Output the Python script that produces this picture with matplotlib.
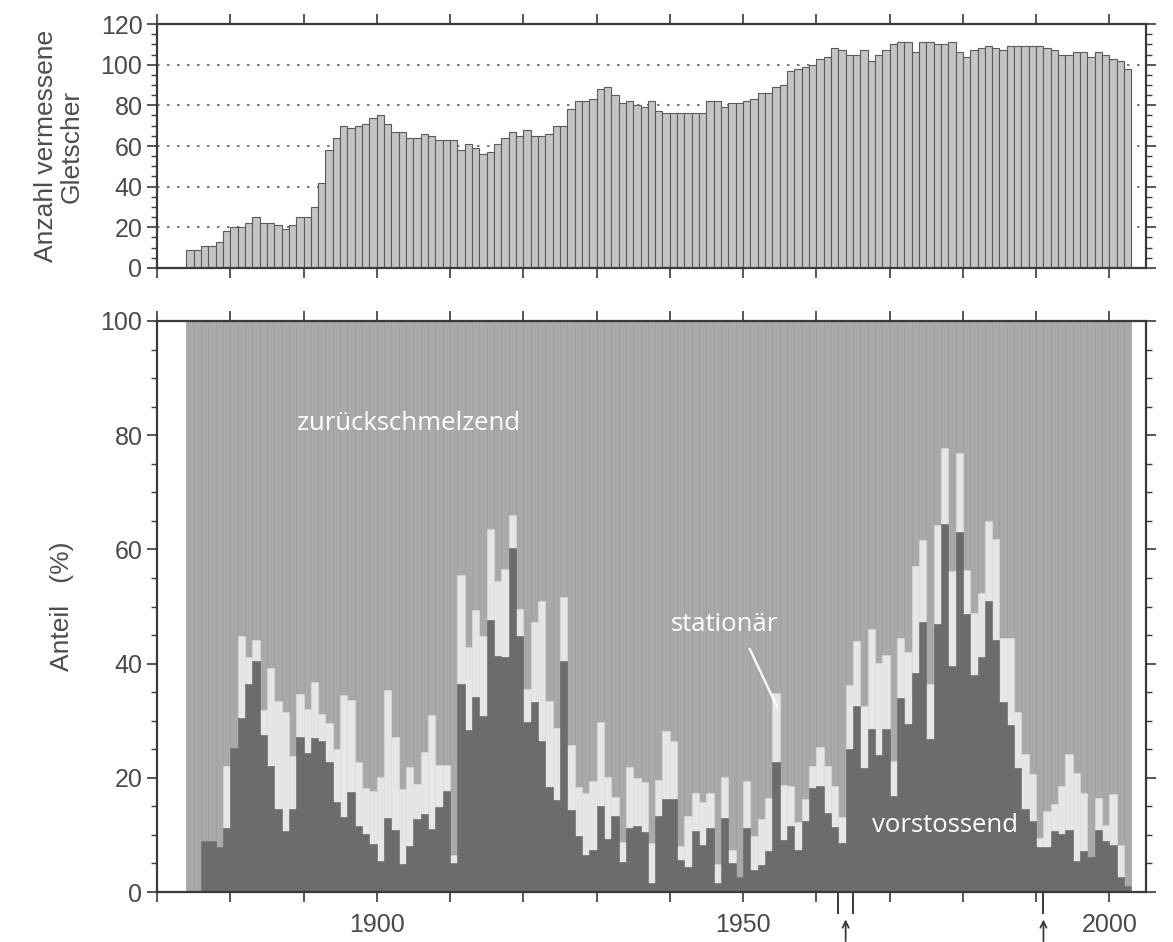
import matplotlib
matplotlib.use("Agg")
import matplotlib.pyplot as plt
from matplotlib.ticker import MultipleLocator, NullFormatter
import numpy as np

plt.rcParams['font.family'] = ['Liberation Sans', 'DejaVu Sans']

# ---------------- data ----------------
years = list(range(1874, 2003))

# number of glaciers measured per year
n_measured = [
    9, 9, 11, 11, 13, 18, 20, 20, 22, 25, 22, 22, 21, 19, 21, 25, 25, 30, 42, 58,
    64, 70, 69, 70, 71, 74, 75, 71, 67, 67, 64, 64, 66, 65,
    63, 63, 63, 58, 61, 59, 56, 57, 61, 64, 67, 65, 68, 65, 65, 66, 70, 70, 78, 82,
    82, 83, 88, 89, 85, 81, 82,
    80, 79, 82, 77, 76, 76, 76, 76, 76, 76, 82, 82, 79, 81, 81, 82, 83, 86, 86, 89,
    90, 97, 98, 99, 100, 103, 104, 108, 107, 105, 105, 107, 102, 105, 107,
    110, 111, 111, 106, 111, 111, 110, 110, 111, 106, 104, 107, 108, 109, 108, 107,
    109, 109, 109, 109, 109, 108, 107, 105, 105, 106, 106, 104, 106, 105, 103, 102, 98,
]

# share advancing (%)
vorstossend = [
    0, 0, 9, 9, 7.8, 11.2, 25.2, 30.4, 36.5, 40.4, 27.5, 22, 14.6, 10.6, 14.6, 27.1,
    24.3, 26.9, 26.5, 22.7, 15.8, 13.1, 17.5, 11.6, 10.2, 8.4, 5.5, 12.9, 10.8, 4.9,
    8.1, 12.7, 13.7, 11, 14.8, 17.7, 5, 36.5, 28.3, 34.2, 30.8, 47.7, 41.4, 41.1,
    60.2, 44.9, 29.8, 33.2, 26.5, 18.4, 16.1, 40.4, 14.3, 9.8, 6.4, 7.4, 15.1, 9.2,
    13.3, 5.2, 11.2, 11.5, 10.5, 1.5, 13.3, 16.2, 16.2, 5.6, 4.4, 10.6, 8.3, 11.2,
    1.5, 12.9, 5.1, 2.6, 11.2, 3.8, 4.8, 7.1, 22.7, 9.1, 11.5, 7.4, 12.4, 18.3, 18.6,
    13.9, 11.4, 8.5, 25.1, 32.6, 21.8, 28.6, 24, 28.6, 16.9, 33.9, 29.5, 38.3, 47.3,
    26.8, 46.9, 64.5, 39.5, 63, 48.6, 38, 41.2, 50.9, 44.2, 33.3, 29.2, 21.8, 14.5,
    12.4, 7.9, 7.9, 10.6, 10.1, 10.9, 5.4, 7.1, 6.2, 10.9, 8.9, 8.3, 2.7, 1,
]

# share stationary (%)
stationaer = [
    0, 0, 0, 0, 0, 10.9, 0, 14.5, 4.6, 3.8, 4.3, 17.3, 18.8, 21, 9.3, 7.5, 7.8, 9.9,
    4.6, 6.9, 9.3, 21.4, 16.1, 11.2, 8.1, 9.3, 14.6, 22.5, 16.3, 13.1, 13.8, 6.2,
    10.8, 20, 7.4, 4.5, 1.5, 19, 14.6, 15.2, 14, 15.9, 13.1, 15.5, 5.8, 4.6, 5.7, 14,
    24.5, 15, 12.6, 11.2, 11.5, 8.6, 10.9, 12.1, 14.7, 11, 3.4, 3.5, 10.7, 8.5, 8.7,
    7.1, 6.3, 12, 10.3, 2.4, 8.9, 6.7, 7.5, 6.1, 3.4, 7.3, 2.3, 0, 8.3, 6, 8, 9.3,
    12.2, 9.7, 7.1, 4.8, 3.8, 3.8, 6.8, 8.2, 7.2, 4.7, 11.1, 11.3, 10.8, 17.5, 16.1,
    12.9, 6.1, 10.6, 12.6, 18.8, 14.3, 9.7, 17.3, 13.2, 16.7, 13.8, 7.8, 10.9, 11.2,
    14, 17.6, 11.1, 15.3, 9.7, 9.7, 8.2, 1.6, 6.3, 4.8, 8.5, 13.3, 15.5, 10.3, 0,
    5.6, 2.9, 8.8, 5.6, 0,
]

y_ticks_top = [0, 20, 40, 60, 80, 100, 120]
y_ticks_bottom = [0, 20, 40, 60, 80, 100]
x_label_years = [1900, 1950, 2000]

vor = np.array(vorstossend)
sta = np.array(stationaer)
zur = 100 - vor - sta

# ---------------- figure ----------------
W, H = 1173, 942
fig = plt.figure(figsize=(W / 100, H / 100), dpi=100)
fig.patch.set_facecolor('white')

L, R = 157, 1146
ax1 = fig.add_axes([L / W, 1 - 268 / H, (R - L) / W, (268 - 24) / H])
ax2 = fig.add_axes([L / W, 1 - 892 / H, (R - L) / W, (892 - 321) / H])

spine_c = '#3a3a3a'
tick_c = '#4a4a4a'
label_c = '#4d4d4d'

# top panel
ax1.bar(years, n_measured, width=1, align='edge', color='#c4c4c4',
        edgecolor='#5a5a5a', linewidth=0.8, zorder=2)
for g in [20, 40, 60, 80, 100]:
    ax1.axhline(g, color='#606060', linestyle=(0, (1.5, 4.5)), linewidth=1.2, zorder=1)
ax1.set_xlim(1870, 2005)
ax1.set_ylim(0, 120)
ax1.set_yticks(y_ticks_top)
ax1.yaxis.set_minor_locator(MultipleLocator(5))
ax1.xaxis.set_major_locator(MultipleLocator(10))
ax1.xaxis.set_major_formatter(NullFormatter())
ax1.set_ylabel('Anzahl vermessene\nGletscher', fontsize=19, color=label_c,
               linespacing=1.1)
ax1.yaxis.set_label_coords(-0.074, 0.5)

# bottom panel
ax2.bar(years, zur, bottom=vor + sta, width=1, align='edge', color='#a9a9a9',
        edgecolor='#9c9c9c', linewidth=0.5, zorder=2)
ax2.bar(years, sta, bottom=vor, width=1, align='edge', color='#e6e6e6',
        edgecolor='#dcdcdc', linewidth=0.4, zorder=2)
ax2.bar(years, vor, width=1, align='edge', color='#6c6c6c',
        edgecolor='#666666', linewidth=0.4, zorder=2)
ax2.set_xlim(1870, 2005)
ax2.set_ylim(0, 100)
ax2.set_yticks(y_ticks_bottom)
ax2.yaxis.set_minor_locator(MultipleLocator(5))
ax2.xaxis.set_major_locator(MultipleLocator(10))
ax2.xaxis.set_major_formatter(
    plt.FuncFormatter(lambda v, p: str(int(round(v))) if int(round(v)) in x_label_years else ''))
ax2.set_ylabel('Anteil   (%)', fontsize=19, color=label_c)
ax2.yaxis.set_label_coords(-0.084, 0.5)

for ax in (ax1, ax2):
    for s in ax.spines.values():
        s.set_color(spine_c)
        s.set_linewidth(1.6)
        s.set_zorder(5)
    ax.tick_params(which='major', direction='out', length=7, width=1.2, color=spine_c,
                   labelsize=18, labelcolor=tick_c, top=True, right=True)
    ax.tick_params(which='minor', direction='out', length=4.5, width=1.0, color=spine_c,
                   right=True)
    ax.tick_params(axis='x', which='major', pad=8)

# in-chart labels
txt_font = ['Open Sans', 'DejaVu Sans']
ax2.text(1904.3, 82, 'zurückschmelzend', color='white', fontsize=18.5,
         family=txt_font, ha='center', va='center', zorder=6)
ax2.text(1947.4, 46.9, 'stationär', color='white', fontsize=18.5,
         family=txt_font, ha='center', va='center', zorder=6)
ax2.plot([1950.9, 1954.6], [42.6, 32.5], color='white', linewidth=1.6, zorder=6)
ax2.text(1977.6, 11.6, 'vorstossend', color='white', fontsize=18.5,
         family=txt_font, ha='center', va='center', zorder=6)

# markers below the time axis
trans = ax2.get_xaxis_transform()
for yr in [1963.0, 1965.0, 1991.0]:
    ax2.plot([yr, yr], [0, -0.036], transform=trans, color=spine_c, linewidth=1.4,
             clip_on=False)
for yr in [1964.0, 1991.0]:
    ax2.annotate('', xy=(yr, -0.048), xytext=(yr, -0.086), xycoords=trans,
                 textcoords=trans, annotation_clip=False,
                 arrowprops=dict(arrowstyle='->,head_length=0.45,head_width=0.22',
                                 color=spine_c, lw=1.3, shrinkA=0, shrinkB=0))

fig.savefig('out.png', dpi=100, facecolor='white')
